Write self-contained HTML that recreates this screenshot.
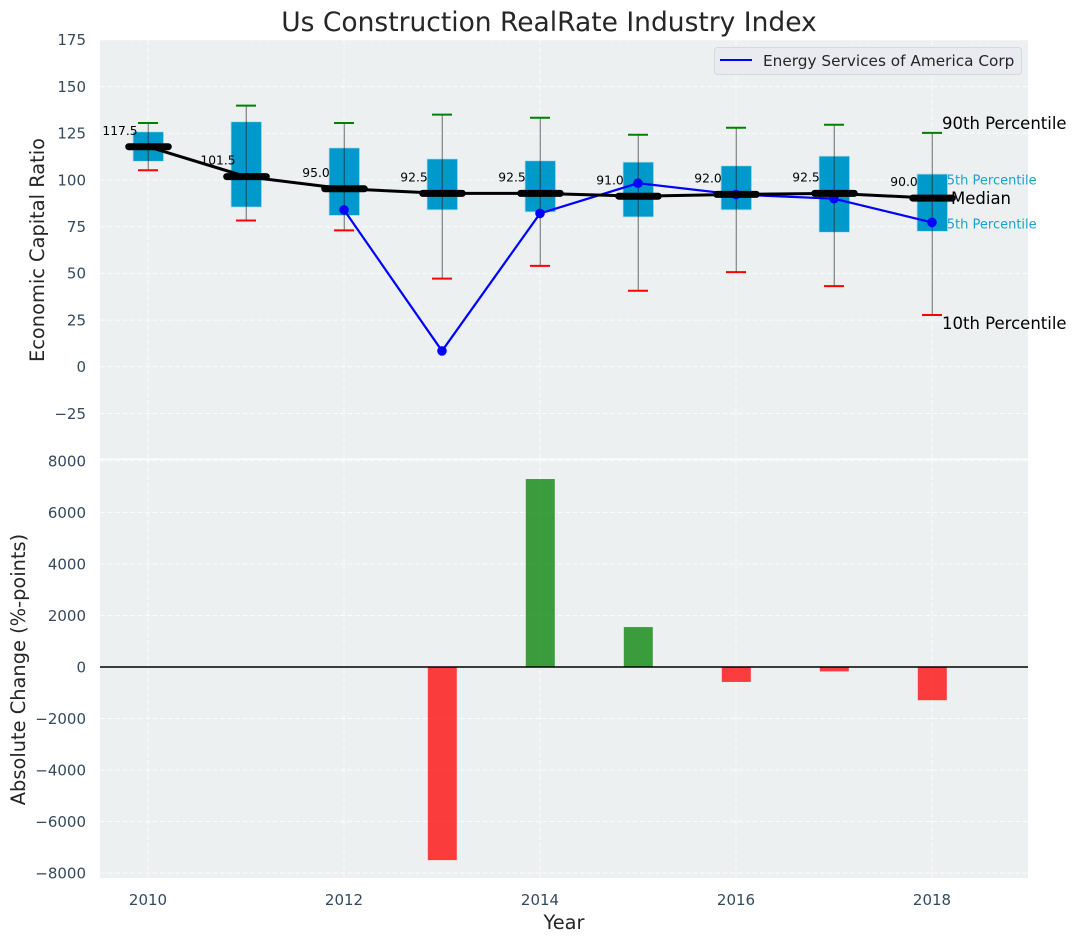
<!DOCTYPE html>
<html>
<head>
<meta charset="utf-8">
<title>Us Construction RealRate Industry Index</title>
<style>
html,body{margin:0;padding:0;background:#fff;width:1077px;height:942px;overflow:hidden}
svg{display:block}
text{font-family:"DejaVu Sans","Liberation Sans",sans-serif}
</style>
</head>
<body>
<svg id="chart" xmlns="http://www.w3.org/2000/svg" width="1077" height="942" viewBox="0 0 1077 942"></svg>
<script>
const years = [2010, 2011, 2012, 2013, 2014, 2015, 2016, 2017, 2018];
const p90 = [130.5, 139.8, 130.5, 135, 133.3, 124.2, 128, 129.6, 125.2];
const p75 = [125.8, 131.2, 117.2, 111.3, 110.3, 109.6, 107.6, 112.8, 103.2];
const medians = [117.5, 101.5, 95, 92.5, 92.5, 91, 92, 92.5, 90];
const p25 = [110, 85.5, 81, 84, 82.9, 80.2, 84, 72, 72.5];
const p10 = [105.2, 78.3, 73, 47.2, 54, 40.7, 50.7, 43.2, 27.7];
const company = [null, null, 84, 8.5, 82.1, 98.3, 92.2, 90, 77.3];
const changes = [null, null, null, -7500, 7300, 1550, -580, -170, -1290];
const topTicks = [175, 150, 125, 100, 75, 50, 25, 0, -25];
const bottomTicks = [8000, 6000, 4000, 2000, 0, -2000, -4000, -6000, -8000];
const xTicks = [2010, 2012, 2014, 2016, 2018];

const svg = document.getElementById('chart');
const NS = 'http://www.w3.org/2000/svg';
const L = 100, R = 1028, T1 = 40, B1 = 458.5, T2 = 460, B2 = 878;
const x = v => 148 + (v - 2010) * 98;
const y1 = v => 366.8 - v * 1.868;
const y2 = v => 667 - v * 0.02575;
const fmtTick = v => (v < 0 ? '\u2212' + Math.abs(v) : String(v));

function mk(tag, attrs, txt) {
  const el = document.createElementNS(NS, tag);
  for (const k in attrs) el.setAttribute(k, attrs[k]);
  if (txt !== undefined) el.textContent = txt;
  svg.appendChild(el);
  return el;
}
function line(x1, y1v, x2, y2v, stroke, w, extra) {
  return mk('line', Object.assign({x1: x1, y1: y1v, x2: x2, y2: y2v, stroke: stroke, 'stroke-width': w}, extra || {}));
}
let el;

/* panels */
el = mk('rect', {x: L, y: T1, width: R - L, height: B1 - T1, fill: '#ecf0f1'});


el = mk('rect', {x: L, y: T2, width: R - L, height: B2 - T2, fill: '#ecf0f1'});



/* grid */
const gridStyle = {'stroke-dasharray': '5 2.5', opacity: 0.85};
topTicks.forEach(t => {
  el = line(L, y1(t), R, y1(t), '#fff', 1, gridStyle);
  
  
  el = mk('text', {x: 86, y: y1(t) + 5.3, 'text-anchor': 'end', 'font-size': 15, fill: '#34495e'}, fmtTick(t));
  
  
});
bottomTicks.forEach(t => {
  el = line(L, y2(t), R, y2(t), '#fff', 1, gridStyle);
  
  
  el = mk('text', {x: 86, y: y2(t) + 5.3, 'text-anchor': 'end', 'font-size': 15, fill: '#34495e'}, fmtTick(t));
  
  
});
xTicks.forEach(t => {
  el = line(x(t), T1, x(t), B1, '#fff', 1, gridStyle);
  
  
  el = line(x(t), T2, x(t), B2, '#fff', 1, gridStyle);
  
  
  el = mk('text', {x: x(t), y: 905, 'text-anchor': 'middle', 'font-size': 15, fill: '#34495e'}, String(t));
  
  
});

/* last-year percentile annotations (sit under the box) */
const lastI = years.length - 1;
const labelX = x(years[lastI]) + 10;
el = mk('text', {x: x(years[lastI]) + 6.5, y: 184.5, 'font-size': 13, fill: '#0099cc', opacity: 0.9}, '75th Percentile');


el = mk('text', {x: x(years[lastI]) + 6.5, y: 228.5, 'font-size': 13, fill: '#0099cc', opacity: 0.9}, '25th Percentile');



/* boxes */
years.forEach((yr, i) => {
  el = mk('rect', {x: x(yr) - 15, y: y1(p75[i]), width: 30.6, height: y1(p25[i]) - y1(p75[i]), fill: '#0099cc', stroke: '#b9e3f1', 'stroke-width': 0.8});
  
  
});

/* whiskers and caps */
years.forEach((yr, i) => {
  el = line(x(yr) + 0.3, y1(p90[i]), x(yr) + 0.3, y1(p10[i]), '#222', 1.3, {opacity: 0.5});
  
  
  el = line(x(yr) - 10, y1(p90[i]), x(yr) + 10, y1(p90[i]), 'green', 2);
  
  
  el = line(x(yr) - 10, y1(p10[i]), x(yr) + 10, y1(p10[i]), 'red', 2);
  
  
});

/* company series */
const companyPts = years.map((yr, i) => company[i] === null ? null : x(yr) + ',' + y1(company[i])).filter(Boolean).join(' ');
el = mk('polyline', {points: companyPts, fill: 'none', stroke: 'blue', 'stroke-width': 2.2});


years.forEach((yr, i) => {
  if (company[i] === null) return;
  el = mk('circle', {cx: x(yr), cy: y1(company[i]), r: 4.8, fill: 'blue'});
  
  
});

/* median line and thick median markers */
const medianPts = years.map((yr, i) => x(yr) + ',' + (y1(medians[i]) - 0.6)).join(' ');
el = mk('polyline', {points: medianPts, fill: 'none', stroke: '#000', 'stroke-width': 3});


years.forEach((yr, i) => {
  el = line(x(yr) - 19.3, y1(medians[i]) - 0.6, x(yr) + 20.3, y1(medians[i]) - 0.6, '#000', 7, {'stroke-linecap': 'round'});
  
  
  el = mk('text', {x: x(yr) - 28, y: y1(medians[i]) - 12.5, 'text-anchor': 'middle', 'font-size': 12.3, fill: '#000'}, medians[i].toFixed(1));
  
  
});

el = mk('text', {x: labelX, y: 129, 'font-size': 16.5, fill: '#000'}, '90th Percentile');


el = mk('text', {x: labelX, y: 329, 'font-size': 16.5, fill: '#000'}, '10th Percentile');


el = mk('text', {x: x(years[lastI]) + 19, y: 204, 'font-size': 16.5, fill: '#000'}, 'Median');



/* change bars */
years.forEach((yr, i) => {
  const v = changes[i];
  if (v === null) return;
  el = mk('rect', {x: x(yr) - 14.2, y: Math.min(y2(0), y2(v)), width: 29, height: Math.abs(y2(v) - y2(0)), fill: v >= 0 ? 'green' : 'red', 'fill-opacity': 0.75});
  
  
});
el = line(L, y2(0), R, y2(0), '#000', 1.5);



/* legend */
el = mk('rect', {x: 714.5, y: 47.5, width: 307, height: 27, rx: 3, fill: '#eaebf0', stroke: '#d5d8dc', 'stroke-width': 1});


el = line(720, 60, 752, 60, 'blue', 2);


el = mk('text', {x: 763, y: 66, 'font-size': 15.3, fill: '#262626'}, 'Energy Services of America Corp');



/* titles */
el = mk('text', {x: 549, y: 31, 'text-anchor': 'middle', 'font-size': 26.5, fill: '#262626'}, 'Us Construction RealRate Industry Index');


el = mk('text', {x: 0, y: 0, transform: 'translate(44,250) rotate(-90)', 'text-anchor': 'middle', 'font-size': 19.4, fill: '#262626'}, 'Economic Capital Ratio');


el = mk('text', {x: 0, y: 0, transform: 'translate(25,669.5) rotate(-90)', 'text-anchor': 'middle', 'font-size': 19.4, fill: '#262626'}, 'Absolute Change (%-points)');


el = mk('text', {x: 564, y: 929, 'text-anchor': 'middle', 'font-size': 19.4, fill: '#262626'}, 'Year');


</script>
</body>
</html>
